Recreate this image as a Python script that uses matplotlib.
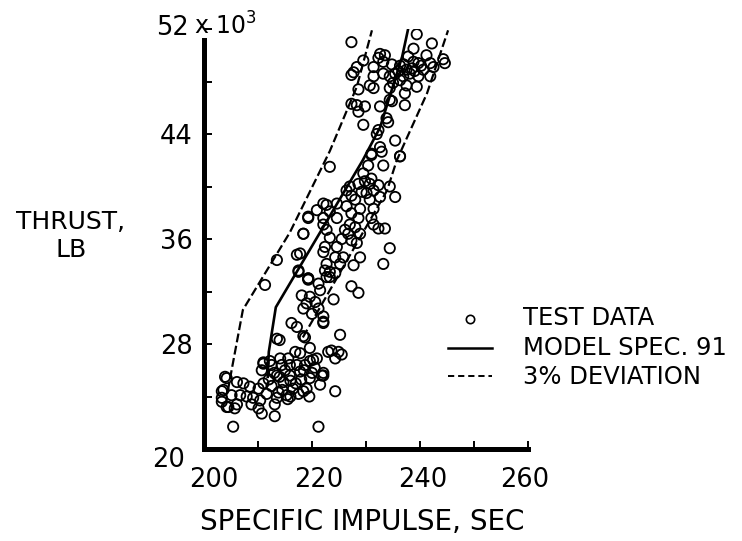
import matplotlib
matplotlib.use("Agg")
import matplotlib.pyplot as plt
import matplotlib.transforms as mtransforms
from matplotlib.lines import Line2D

# test data: specific impulse (sec), thrust (x 10^3 lb)
isp_test = [
    227.3, 239.4, 238.8, 242.2, 232.6, 233.5, 232.3, 229.5, 241.2, 244.3,
    244.6, 228.3, 227.7, 227.3, 231.4, 233.2, 234.8, 236.3, 237.8, 238.8,
    239.7, 241.9, 242.5, 240.6, 237.5, 238.1, 236.9, 236.3, 235.4, 231.4,
    233.2, 234.4, 239.7, 241.9, 230.7, 231.4, 228.6, 234.4, 237.5, 239.4,
    237.2, 227.3, 228.3, 229.8, 228.6, 232.6, 234.4, 234.8, 237.2, 233.8,
    234.1, 229.5, 232.3, 232.0, 235.4, 232.6, 231.0, 236.3,
    238.5, 239.0, 237.0, 240.2, 236.0, 235.0,
    223.3, 231.0, 232.9, 236.3, 230.4, 233.2, 229.5, 231.0, 229.8, 228.6,
    230.7, 232.3, 234.4, 227.0, 226.4, 229.2, 231.4, 227.3, 230.1, 232.6,
    235.4, 228.0, 230.7, 222.1, 224.6, 220.9, 223.3, 226.4, 228.9, 231.4,
    227.3, 219.3, 222.1, 224.6, 228.6, 231.0, 227.0, 228.0, 231.4, 232.3,
    233.5, 222.1, 222.7, 218.4, 226.1, 226.7, 228.9, 223.3, 225.5, 227.3,
    228.3, 222.4, 224.6, 222.1, 234.4, 217.8, 224.3, 225.8, 228.9, 233.2,
    222.7, 225.2, 227.7, 219.3, 222.4, 223.3, 224.3,
    213.5, 217.5, 217.2, 218.4, 219.3, 222.7,
    211.3, 217.5, 219.3, 221.2, 222.7, 218.1, 219.6, 219.0, 220.6, 218.4,
    221.2, 220.0, 222.1, 222.1, 216.2, 217.2, 213.5, 214.0, 218.4, 219.6,
    216.9, 217.8, 220.9, 211.0, 212.2, 214.4, 215.9, 218.7, 223.0,
    227.3, 228.6, 225.2, 223.6, 224.9, 225.5, 224.3, 222.1, 223.3, 219.3,
    221.5, 224.0, 222.1, 218.7, 220.2,
    203.9, 206.1, 207.3, 208.5, 210.1, 210.7, 211.0, 212.5, 214.1, 203.6,
    203.3, 205.1, 206.7, 207.9, 209.1, 210.4, 211.6, 213.5, 213.1, 210.1,
    210.7, 213.1, 204.2, 206.1, 208.8, 205.4, 221.2, 214.7, 215.9, 217.8,
    219.6, 221.5, 221.8, 216.5, 215.3, 218.4, 213.5, 212.0, 217.2, 219.6,
    215.6,
    203.3, 203.3, 204.2, 204.5, 205.7, 224.3, 222.1,
    213.0, 214.0, 215.0, 216.0, 217.0, 218.0, 212.5, 214.5, 216.0, 217.5,
    219.0, 220.0, 219.5, 213.8, 215.5, 211.0, 218.5, 220.5,
]
thrust_test = [
    51.0, 51.6, 50.5, 50.9, 50.1, 50.0, 49.8, 49.6, 50.0, 49.7,
    49.4, 49.1, 48.7, 48.5, 49.1, 49.5, 49.3, 49.2, 49.9, 49.5,
    49.4, 49.4, 49.1, 48.9, 48.9, 48.6, 48.4, 48.1, 48.6, 48.4,
    48.6, 48.4, 48.4, 48.4, 47.7, 47.5, 47.4, 47.5, 47.7, 47.6,
    47.1, 46.3, 46.2, 46.1, 45.7, 46.1, 46.6, 46.5, 46.2, 45.2,
    44.9, 44.7, 44.3, 44.0, 43.5, 43.0, 42.4, 42.3,
    49.0, 48.8, 49.3, 49.2, 48.8, 47.9,
    41.5, 42.5, 42.65, 42.3, 41.6, 41.6, 41.0, 40.6, 40.4, 40.2,
    40.2, 40.1, 40.0, 40.0, 39.7, 39.6, 39.7, 39.3, 39.5, 39.2,
    39.2, 39.0, 39.0, 38.7, 38.7, 38.2, 38.1, 38.5, 38.3, 38.3,
    37.96, 37.7, 37.6, 37.6, 37.6, 37.6, 37.1, 36.9, 37.1, 36.8,
    36.8, 37.1, 36.7, 36.4, 36.7, 36.4, 36.4, 36.1, 36.0, 35.9,
    35.7, 35.4, 35.4, 35.0, 35.3, 34.9, 34.6, 34.6, 34.6, 34.1,
    34.1, 34.1, 34.0, 33.0, 33.6, 33.1, 33.4,
    34.4, 33.6, 34.8, 36.4, 37.6, 38.6,
    32.5, 33.5, 32.9, 32.6, 33.1, 31.7, 31.6, 31.1, 31.2, 30.7,
    30.7, 30.3, 30.1, 29.6, 29.6, 29.3, 28.4, 28.3, 28.6, 27.7,
    27.4, 27.3, 26.9, 26.5, 26.7, 26.4, 26.4, 26.4, 27.4,
    32.4, 31.9, 28.7, 27.5, 27.4, 27.2, 26.9, 25.8, 33.5, 33.0,
    32.1, 31.4, 29.7, 28.5, 26.8,
    25.5, 25.1, 25.0, 24.75, 24.6, 26.0, 26.6, 26.4, 26.9, 24.5,
    23.9, 24.1, 24.1, 24.0, 23.9, 23.7, 24.2, 23.9, 23.4, 23.1,
    22.7, 22.5, 23.2, 23.4, 23.4, 21.7, 21.7, 25.1, 25.6, 25.9,
    25.4, 24.9, 25.6, 24.6, 24.1, 24.4, 25.6, 25.3, 26.4, 26.7,
    26.9,
    24.4, 23.6, 25.4, 23.2, 23.1, 24.4, 25.6,
    25.8, 25.5, 26.0, 25.2, 25.0, 25.3, 24.8, 24.5, 24.0, 24.2,
    24.6, 25.8, 24.0, 24.3, 23.8, 25.0, 26.0, 26.2,
]

# model spec. 91 curve and the +/- 3% deviation band
isp_model = [211.8, 212.0, 213.3, 229.4, 232.6, 236.7, 237.8]
thrust_model = [25.5, 27.4, 30.8, 42.0, 44.5, 49.9, 52.0]
isp_dev_low = [204.4, 205.2, 207.2, 215.9, 223.3, 228.3, 231.1]
thrust_dev_low = [24.4, 26.2, 30.6, 36.5, 42.7, 47.6, 51.9]
isp_dev_high = [218.3, 233.9, 235.7, 241.3, 245.2]
thrust_dev_high = [28.5, 39.7, 42.0, 47.1, 51.9]

x_ticks = [200, 220, 240, 260]
y_ticks = [20, 28, 36, 44, 52]

W, H = 742, 541

plt.rcParams["font.family"] = ["DejaVu Sans"]
plt.rcParams["mathtext.fontset"] = "dejavusans"

fig = plt.figure(figsize=(W / 100, H / 100), dpi=100)
ax = fig.add_axes([204 / W, (H - 449) / H, 324 / W, 420 / H])

ax.scatter(isp_test, thrust_test, s=55, facecolors="none", edgecolors="black",
           linewidths=1.3, zorder=3)
ax.plot(isp_model, thrust_model, color="black", lw=1.9, zorder=2)
ax.plot(isp_dev_low, thrust_dev_low, color="black", lw=1.6,
        linestyle=(0, (4, 1.6)), zorder=2)
ax.plot(isp_dev_high, thrust_dev_high, color="black", lw=1.6,
        linestyle=(0, (4, 1.6)), zorder=2)

ax.set_xlim(200, 260)
ax.set_ylim(20, 52)
ax.set_xticks(x_ticks)
ax.set_xticks(range(200, 261, 10), minor=True)
ax.set_yticks(y_ticks)
ax.set_yticks(range(20, 53, 4), minor=True)
ax.set_xticklabels([str(v) for v in x_ticks])
ax.set_yticklabels([str(v) for v in y_ticks])

for side in ("top", "right"):
    ax.spines[side].set_visible(False)
for side in ("left", "bottom"):
    ax.spines[side].set_linewidth(3.6)
ax.spines["left"].set_bounds(20, 51.2)
ax.tick_params(which="both", direction="in", length=6, width=1.4,
               labelsize=18.5, color="black")
ax.tick_params(axis="x", pad=13)
ax.tick_params(axis="y", pad=8)

# nudge tick labels to where the original lettering sits (pixels)
x_nudge = [10, 7, 3, -3]
y_nudge = [(-8, -8), (0, 0), (0, 0), (0, 0), (-4, 4)]
for lbl, ox in zip(ax.get_xticklabels(), x_nudge):
    off = mtransforms.ScaledTranslation(ox / 100, 0, fig.dpi_scale_trans)
    lbl.set_transform(lbl.get_transform() + off)
for lbl, (ox, oy) in zip(ax.get_yticklabels(), y_nudge):
    off = mtransforms.ScaledTranslation(ox / 100, oy / 100, fig.dpi_scale_trans)
    lbl.set_transform(lbl.get_transform() + off)

fig.text(194 / W, 1 - 35 / H, "x 10$^3$", fontsize=17, ha="left",
         va="baseline")
fig.text(71 / W, 1 - 236 / H, "THRUST,\nLB", fontsize=18, ha="center",
         va="center", linespacing=1.25)
fig.text(362 / W, 1 - 522 / H, "SPECIFIC IMPULSE, SEC", fontsize=20,
         ha="center", va="center")

# legend drawn by hand
fig.add_artist(Line2D([470 / W], [1 - 319 / H], marker="o", markersize=6,
                      markerfacecolor="none", markeredgecolor="black",
                      markeredgewidth=1.2, transform=fig.transFigure))
fig.add_artist(Line2D([448 / W, 492 / W], [1 - 348 / H] * 2, color="black",
                      lw=1.8, transform=fig.transFigure))
fig.add_artist(Line2D([448 / W, 492 / W], [1 - 376 / H] * 2, color="black",
                      lw=1.4, linestyle=(0, (3.2, 2.0)),
                      transform=fig.transFigure))
for py, txt in [(318, "TEST DATA"), (348, "MODEL SPEC. 91"),
                (377, "3% DEVIATION")]:
    fig.text(523 / W, 1 - py / H, txt, fontsize=17.5, ha="left", va="center")

fig.savefig("out.png", dpi=100)
